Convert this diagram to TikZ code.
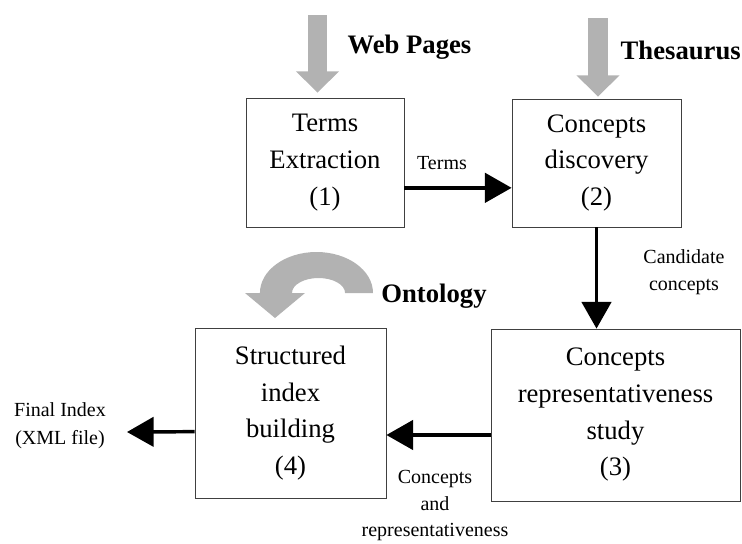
\documentclass[tikz,border=0pt]{standalone}
\usepackage{fontspec}
\setmainfont{Liberation Serif}
\usetikzlibrary{arrows.meta}

\begin{document}
\begin{tikzpicture}[
  x=0.75pt, y=-0.75pt,
  stage/.style={draw=black!75, line width=0.6pt, align=center, inner sep=0pt,
    font=\fontsize{20}{27.5}\selectfont},
  note/.style={align=center, inner sep=0pt, font=\fontsize{15}{21}\selectfont},
  source/.style={inner sep=0pt, font=\fontsize{20}{24}\selectfont\bfseries},
  flow/.style={line width=2.6pt, -{Triangle[width=22pt,length=20pt]}},
  feed/.style={line width=14.5pt, draw=gray!60, -{Triangle[width=31.5pt,length=16pt]}}
]
\useasboundingbox (0,0) rectangle (742,543);
\node[stage, minimum width=118.5pt, minimum height=96.75pt] (extract) at (325,162.5) {Terms\\Extraction\\(1)};
\node[stage, minimum width=126.75pt, minimum height=96pt] (discover) at (596.5,163) {Concepts\\discovery\\(2)};
\node[stage, minimum width=186.75pt, minimum height=129pt] (study) at (615.5,415) {Concepts\\representativeness\\study\\(3)};
\node[stage, minimum width=143.25pt, minimum height=127.5pt] (build) at (290.5,413) {Structured\\index\\building\\(4)};

\node[source] (web) at (409.5,47) {Web Pages};
\node[source, anchor=east] (thes) at (741,50) {Thesaurus};
\node[source] (onto) at (434,296) {Ontology};

\node[note] (terms) at (442,163) {Terms};
\node[note, font=\fontsize{15}{20}\selectfont] (cand) at (684,272) {Candidate\\concepts};
\node[note, font=\fontsize{15}{20}\selectfont] (concrep) at (435,505.5) {Concepts\\and\\representativeness};
\node[note] (final) at (60,426) {Final Index\\(XML file)};

\coordinate (webtop) at (317.5,15);
\coordinate (thestop) at (598,18);
\coordinate (out) at (127,432);

\draw[feed] (webtop) -- ([yshift=3.75pt]webtop |- extract.north);
\draw[feed] (thestop) -- ([yshift=1.5pt]thestop |- discover.north);
\fill[gray!60] (373,293) arc[start angle=0, end angle=180, x radius=42.4pt, y radius=30.75pt]
  -- (245,293) -- (275,318) -- (305,293) -- (292,293)
  arc[start angle=180, end angle=0, x radius=19.9pt, y radius=11.25pt] -- cycle;

\draw[flow] ([yshift=-19pt]extract.east) -- ([yshift=-19pt]extract.east -| discover.west);
\draw[flow] (discover.south) -- (discover.south |- study.north);
\draw[flow] ([yshift=-15pt]study.west) -- ([yshift=-15pt]study.west -| build.east);
\draw[flow] ([yshift=-14pt]build.west) -- (out);
\end{tikzpicture}
\end{document}
